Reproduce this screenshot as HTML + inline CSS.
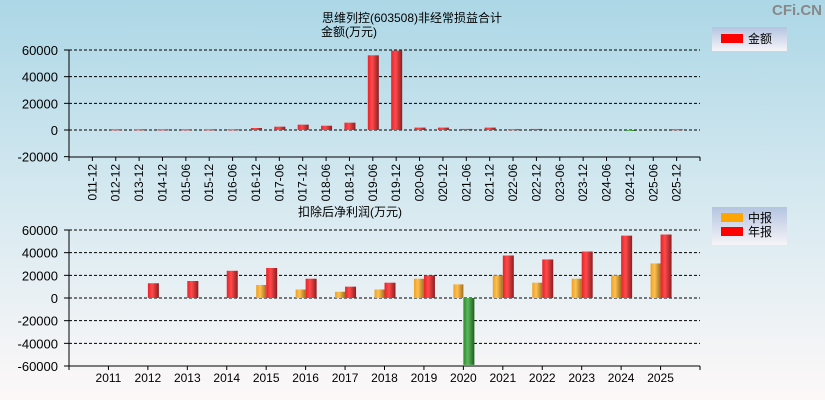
<!DOCTYPE html>
<html><head><meta charset="utf-8"><style>
body{margin:0;width:825px;height:400px;overflow:hidden;}
svg{display:block;font-family:"Liberation Sans","Noto Sans CJK SC",sans-serif;}
</style></head><body>
<svg id="c" width="825" height="400" xmlns="http://www.w3.org/2000/svg">
<defs>
<linearGradient id="bg" x1="0" y1="0" x2="0" y2="1"><stop offset="0" stop-color="#acd7e6"/><stop offset="0.5" stop-color="#d6e9f0"/><stop offset="1" stop-color="#fdf8f8"/></linearGradient>
<linearGradient id="gr" x1="0" x2="1"><stop offset="0" stop-color="#e8222a"/><stop offset="0.4" stop-color="#ff4a4a"/><stop offset="1" stop-color="#8a1e22"/></linearGradient>
<linearGradient id="go" x1="0" x2="1"><stop offset="0" stop-color="#f0a020"/><stop offset="0.4" stop-color="#ffc050"/><stop offset="1" stop-color="#a07020"/></linearGradient>
<linearGradient id="gg" x1="0" x2="1"><stop offset="0" stop-color="#2a8a2a"/><stop offset="0.4" stop-color="#5cb85c"/><stop offset="1" stop-color="#1e5e1e"/></linearGradient>
<linearGradient id="lg" x1="0" y1="0" x2="0" y2="1"><stop offset="0" stop-color="#b4c4e0"/><stop offset="1" stop-color="#f6f4f8"/></linearGradient>
<clipPath id="clipTop"><rect x="0" y="0" width="825" height="201"/></clipPath>
</defs>
<rect width="825" height="400" fill="url(#bg)"/>
<text x="822" y="15" font-size="15" font-weight="bold" fill="#888" text-anchor="end">CFi.CN</text>
<text x="412" y="22" font-size="12" text-anchor="middle">思维列控(603508)非经常损益合计</text>
<text x="349" y="36" font-size="12" text-anchor="middle">金额(万元)</text>
<text x="350" y="216" font-size="12" text-anchor="middle">扣除后净利润(万元)</text>
<g>
<rect x="712" y="27" width="75" height="24" fill="url(#lg)"/>
<rect x="721" y="34" width="22" height="9" fill="#f00"/>
<text x="748" y="43" font-size="12">金额</text>
</g>
<g>
<rect x="712" y="207" width="75" height="38" fill="url(#lg)"/>
<rect x="721" y="213" width="22" height="9" fill="#ffa500"/>
<text x="748" y="222" font-size="12">中报</text>
<rect x="721" y="227" width="22" height="9" fill="#f00"/>
<text x="748" y="236" font-size="12">年报</text>
</g>
<g id="g1" clip-path="url(#clipTop)"></g><g id="g2"></g>
</svg>
<script>
const topCats=["2011-12","2012-12","2013-12","2014-12","2015-06","2015-12","2016-06","2016-12","2017-06","2017-12","2018-06","2018-12","2019-06","2019-12","2020-06","2020-12","2021-06","2021-12","2022-06","2022-12","2023-06","2023-12","2024-06","2024-12","2025-06","2025-12"];
const topVals=[0,500,500,500,500,500,500,1500,2500,4000,3200,5500,56000,59500,1800,1800,800,1800,600,800,0,0,0,-500,0,600];
const topTicks=[60000,40000,20000,0,-20000];
const years=["2011","2012","2013","2014","2015","2016","2017","2018","2019","2020","2021","2022","2023","2024","2025"];
const midVals=[0,0,0,0,11500,7500,5500,7500,17000,12000,20000,13500,17000,20000,30500];
const annVals=[0,13000,15000,24000,26500,17000,10000,13500,20000,-59000,37500,34000,41000,55000,56000];
const botTicks=[60000,40000,20000,0,-20000,-40000,-60000];

const NS="http://www.w3.org/2000/svg";
function mk(p,t,a){const e=document.createElementNS(NS,t);for(const k in a)e.setAttribute(k,a[k]);p.appendChild(e);return e;}
const X0=69,X1=700;
function drawAxes(g,ticks,yf,yTop,yBot,cats,xf,rot){
  ticks.forEach(t=>{const y=yf(t);
    if(y>yTop-1&&y<yBot-1){const l=mk(g,'line',{x1:X0,x2:X1,y1:y,y2:y,stroke:'#000','stroke-dasharray':'3,2'});
    
    }
    const tk=mk(g,'line',{x1:X0-5,x2:X0,y1:y,y2:y,stroke:'#000'});
    
    
    const tx=mk(g,'text',{x:X0-11,y:y+5,'font-size':13,'text-anchor':'end',fill:'#000'});tx.textContent=t;
    
    
  });
  const ax=mk(g,'path',{d:`M${X0} ${yTop}V${yBot}H${X1}M${X0} ${yBot}v4M${X1} ${yBot}v4`,stroke:'#000',fill:'none'});
  
  
  cats.forEach((c,i)=>{const x=xf(i);
    const tk=mk(g,'line',{x1:x,x2:x,y1:yBot,y2:yBot+4,stroke:'#000'});
    
    
    let tx;
    if(rot){tx=mk(g,'text',{x:0,y:0,'font-size':12,'text-anchor':'end',transform:`translate(${x+4},${yBot+7}) rotate(-90)`});}
    else{tx=mk(g,'text',{x:x,y:yBot+16,'font-size':12,'text-anchor':'middle'});}
    tx.textContent=c;
    
    
  });
}
function bar(g,x,w,v,yf,fill,name){
  if(v===0)return;
  const y0=yf(0),y1=yf(v);
  const r=mk(g,'rect',{x:x,y:Math.min(y0,y1),width:w,height:Math.max(1,Math.abs(y1-y0)),fill:v<0?'url(#gg)':fill});
  
  
}
const g1=document.getElementById('g1');
const ty=v=>130-(v/20000)*26.67;
const step1=(X1-X0)/27;
const tx1=i=>X0+(i+1)*step1;
drawAxes(g1,topTicks,ty,50,157,topCats,tx1,true);
topVals.forEach((v,i)=>bar(g1,tx1(i)-5,11,v,ty,'url(#gr)','bar-'+topCats[i]));
const g2=document.getElementById('g2');
const by=v=>298-(v/20000)*22.67;
const step2=(X1-X0)/16;
const bx=i=>X0+(i+1)*step2;
drawAxes(g2,botTicks,by,230,366,years,bx,false);
years.forEach((y,i)=>{
  bar(g2,bx(i)-10,10,midVals[i],by,'url(#go)','bar-mid-'+y);
  bar(g2,bx(i),11,annVals[i],by,'url(#gr)','bar-annual-'+y);
});
</script>
</body></html>
